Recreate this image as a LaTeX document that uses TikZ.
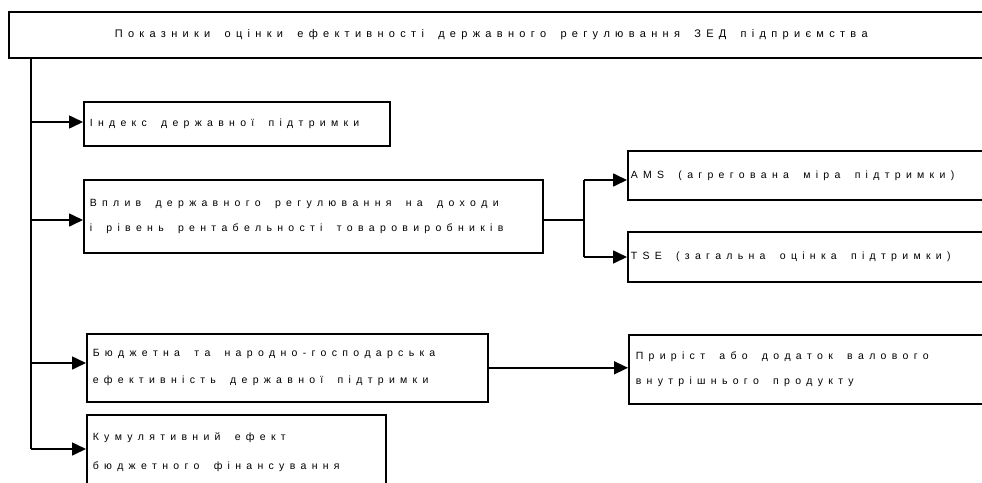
\documentclass[tikz,border=0pt]{standalone}
\usepackage{fontspec}
\setmainfont{Liberation Sans}
\usetikzlibrary{arrows.meta}
\makeatletter
\newcommand\LS[1]{\LS@#1 \@nil}
\def\LS@#1 #2\@nil{\LSw{#1}\ifx\relax#2\relax\else\kern9pt\LS@#2\@nil\fi}
\def\LSw#1{\@tfor\LS@c:=#1\do{\LS@c\kern5.3pt}}
\makeatother
\newcommand{\bxfont}[1]{\fontsize{10.5}{#1}\selectfont}
\begin{document}
\begin{tikzpicture}[x=1pt,y=-1pt,
  box/.style={draw, line width=1.6pt, anchor=north west, align=left, inner xsep=6pt, inner ysep=0pt, font=\bxfont{25}},
  arr/.style={line width=1.6pt, -{Triangle[length=14pt,width=13pt]}},
  ln/.style={line width=1.6pt}]
\useasboundingbox (0,0) rectangle (982,482);
\node[box, inner xsep=106pt, text width=788pt, minimum height=46pt, font=\fontsize{11}{25}\selectfont] (title) at (8,11) {\LS{Показники оцінки ефективності державного регулювання ЗЕД підприємства}};
\node[box, text width=294pt, minimum height=44pt] (b1) at (83,101) {\LS{Індекс державної підтримки}};
\node[box, text width=447pt, minimum height=73pt] (b2) at (83,179) {\LS{Вплив державного регулювання на доходи}\\\LS{і рівень рентабельності товаровиробників}};
\node[box, text width=389pt, minimum height=68pt, font=\bxfont{27}] (b3) at (86,333) {\LS{Бюджетна та народно-господарська}\\\LS{ефективність державної підтримки}};
\node[box, text width=287pt, minimum height=75pt, font=\bxfont{29}] (b4) at (86,414) {\LS{Кумулятивний ефект}\\\LS{бюджетного фінансування}};
\node[box, inner xsep=3pt, text width=400pt, minimum height=49pt] (ams) at (627,150) {\LS{AMS (агрегована міра підтримки)}};
\node[box, inner xsep=3pt, text width=400pt, minimum height=50pt] (tse) at (627,231) {\LS{TSE (загальна оцінка підтримки)}};
\node[box, inner xsep=7pt, text width=400pt, minimum height=69pt] (b5) at (628,334) {\LS{Приріст або додаток валового}\\\LS{внутрішнього продукту}};
\coordinate (t1) at (31,122);
\coordinate (t2) at (31,220);
\coordinate (t3) at (31,363);
\coordinate (t4) at (31,449);
\draw[ln] (t1 |- title.south) -- (t4);
\draw[arr] (t1) -- (t1 -| b1.west);
\draw[arr] (t2) -- (t2 -| b2.west);
\draw[arr] (t3) -- (t3 -| b3.west);
\draw[arr] (t4) -- (t4 -| b4.west);
\coordinate (fm) at (584,220);
\coordinate (fa) at (584,180);
\coordinate (fb) at (584,257);
\draw[ln] (fm -| b2.east) -- (fm);
\draw[ln] (fa) -- (fb);
\draw[arr] (fa) -- (fa -| ams.west);
\draw[arr] (fb) -- (fb -| tse.west);
\draw[arr] (b3.east) -- (b3.east -| b5.west);
\end{tikzpicture}
\end{document}
